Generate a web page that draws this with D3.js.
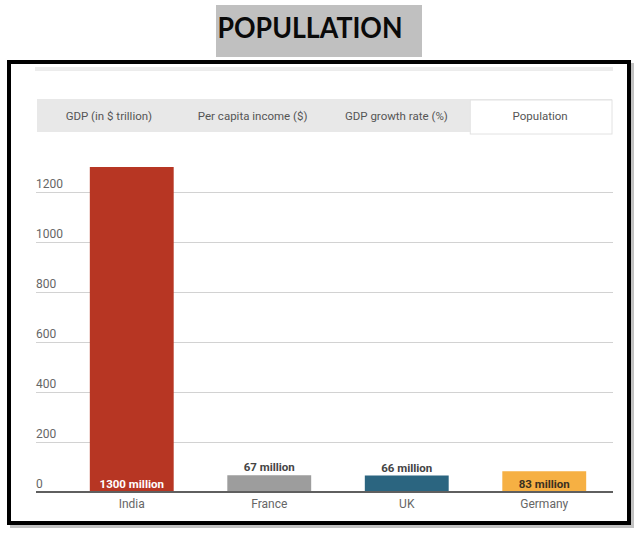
<!DOCTYPE html>
<html>
<head>
<meta charset="utf-8">
<script src="https://cdn.jsdelivr.net/npm/d3@7"></script>
<style>
html,body{margin:0;padding:0;background:#fff;}
svg{display:block;}
</style>
</head>
<body>
<svg id="chart" width="640" height="534"></svg>
<script>
const titleText = "POPULLATION";
const tabs = ["GDP (in $ trillion)", "Per capita income ($)", "GDP growth rate (%)", "Population"];
const activeTab = "Population";
const countries = ["India", "France", "UK", "Germany"];
const population = [1300, 67, 66, 83];
const valueLabels = ["1300 million", "67 million", "66 million", "83 million"];
const barColors = ["#b73623", "#9d9d9d", "#2b6580", "#f6b043"];
const labelColors = ["#ffffff", "#444444", "#444444", "#3a3020"];
const yTicks = [0, 200, 400, 600, 800, 1000, 1200];

const svg = d3.select("#chart");
const font = "Roboto, 'Noto Sans', sans-serif";

// Title box
svg.append("rect").attr("x", 216).attr("y", 5).attr("width", 206).attr("height", 52).attr("fill", "#c0c0c0");
const t = svg.append("text").attr("x", 310).attr("y", 38).attr("text-anchor", "middle")
  .attr("font-family", "Lato, 'Open Sans', sans-serif").attr("font-weight", 700)
  .attr("font-size", 29).attr("fill", "#0a0a0a").text(titleText);
const tw = t.node().getComputedTextLength();
if (Math.abs(tw - 185) > 3) t.attr("textLength", 185).attr("lengthAdjust", "spacingAndGlyphs");

// Frame with shadow
svg.append("rect").attr("x", 12).attr("y", 65).attr("width", 620).attr("height", 461)
  .attr("fill", "none").attr("stroke", "#9a9a9a").attr("stroke-width", 4).attr("opacity", 0.6);
svg.append("rect").attr("x", 9).attr("y", 62).attr("width", 620).attr("height", 461)
  .attr("fill", "#fff").attr("stroke", "#000").attr("stroke-width", 4);

// top light strip
svg.append("rect").attr("x", 35).attr("y", 67).attr("width", 578).attr("height", 4).attr("fill", "#ececec");

// Tabs
const tabX = d3.scaleBand().domain(tabs).range([37, 612]);
const tabG = svg.append("g");
tabG.append("rect").attr("x", 37).attr("y", 99).attr("width", 575).attr("height", 33).attr("fill", "#e8e8e8");
tabG.selectAll("rect.tab").data(tabs.filter(d => d === activeTab)).join("rect")
  .attr("class", "tab")
  .attr("x", d => tabX(d) + 2).attr("y", 100).attr("width", tabX.bandwidth() - 2).attr("height", 34)
  .attr("fill", "#fff").attr("stroke", "#e2e2e2").attr("stroke-width", 1);
tabG.selectAll("text").data(tabs).join("text")
  .attr("x", d => tabX(d) + tabX.bandwidth() / 2).attr("y", 120)
  .attr("text-anchor", "middle").attr("font-family", font).attr("font-size", 11.5)
  .attr("font-weight", 400).attr("fill", "#555").text(d => d);

// Scales
const x = d3.scaleBand().domain(countries).range([63, 613]).paddingInner(0.39).paddingOuter(0.195);
const y = d3.scaleLinear().domain([0, 1200]).range([492, 192]);

// Grid + y labels
const yAxis = d3.axisLeft(y).tickValues(yTicks).tickSize(-(613 - 36)).tickFormat(d3.format("d"));
const ga = svg.append("g").attr("transform", "translate(36,0)").call(yAxis);
ga.select(".domain").remove();
ga.selectAll(".tick line").attr("stroke", "#d2d2d2").attr("stroke-width", 1);
ga.selectAll(".tick text").attr("x", 0).attr("dy", -5).attr("text-anchor", "start")
  .attr("font-family", font).attr("font-size", 12).attr("fill", "#666");

// Bars
const data = countries.map((c, i) => ({c, v: population[i], label: valueLabels[i], color: barColors[i], lc: labelColors[i]}));
svg.append("g").selectAll("rect").data(data).join("rect")
  .attr("x", d => x(d.c)).attr("y", d => y(d.v)).attr("width", x.bandwidth())
  .attr("height", d => y(0) - y(d.v)).attr("fill", d => d.color);

// Baseline
svg.append("line").attr("x1", 36).attr("x2", 613).attr("y1", y(0)).attr("y2", y(0))
  .attr("stroke", "#5f5f5f").attr("stroke-width", 2);

// Value labels
svg.append("g").selectAll("text").data(data).join("text")
  .attr("x", d => x(d.c) + x.bandwidth() / 2)
  .attr("y", d => (y(0) - y(d.v)) >= 20 ? y(0) - 4 : y(d.v) - 4)
  .attr("text-anchor", "middle").attr("font-family", font).attr("font-weight", 700)
  .attr("font-size", 11.5).attr("fill", d => d.lc).text(d => d.label);

// Category labels
svg.append("g").selectAll("text").data(countries).join("text")
  .attr("x", d => x(d) + x.bandwidth() / 2).attr("y", 508)
  .attr("text-anchor", "middle").attr("font-family", font).attr("font-size", 12)
  .attr("fill", "#666").text(d => d);
</script>
</body>
</html>
